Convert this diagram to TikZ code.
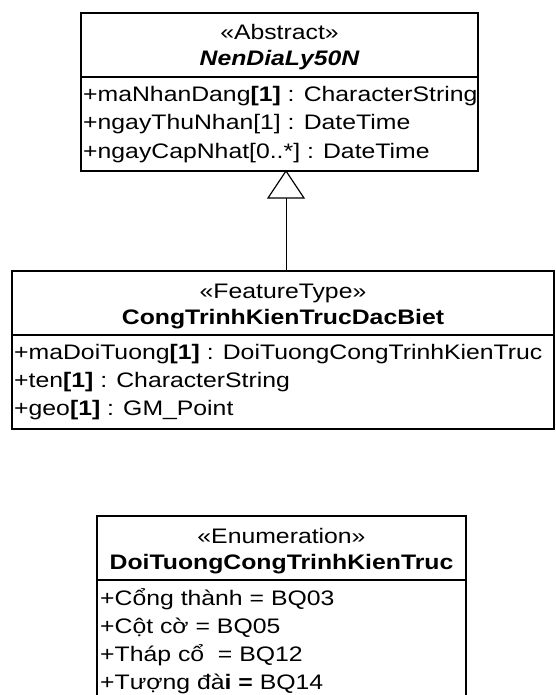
\documentclass[tikz,border=0pt]{standalone}
\usepackage{fontspec}
\setmainfont{Liberation Sans}[FakeStretch=1.18]
\usetikzlibrary{calc}
\begin{document}
\begin{tikzpicture}[x=1pt,y=-1pt,
  umlbox/.style={draw=black,line width=1.4pt,fill=white,anchor=north west,inner sep=0pt,outer sep=0pt},
  head/.style={anchor=base,inner sep=0pt,font=\fontsize{21}{25}\selectfont},
  attr/.style={anchor=base west,inner sep=0pt,font=\fontsize{21}{25}\selectfont},
  sep/.style={line width=1.2pt},
  link/.style={line width=1pt},
  gen/.style={draw=black,line width=1.2pt,fill=white,line join=miter}]
\fill[white] (0,0) rectangle (555,695);
\useasboundingbox (0,0) rectangle (555,695);
\clip (0,0) rectangle (555,695);

% abstract base class
\node[umlbox,minimum width=397pt,minimum height=158pt] (nen) at (81,13) {};
\coordinate (nendiv) at (0,77);
\draw[sep] (nen.west |- nendiv) -- (nen.east |- nendiv);
\node[head] (nenst) at (279.5,40) {«Abstract»};
\node[head] (nenname) at (279.5,66) {\bfseries\itshape NenDiaLy50N};
\node[attr] (nena) at (83,102) {+maNhanDang\textbf{[1]} : CharacterString};
\node[attr] (nenb) at (83,130) {+ngayThuNhan[1] : DateTime};
\node[attr] (nenc) at (83,158) {+ngayCapNhat[0..*] : DateTime};

% feature type
\node[umlbox,minimum width=542pt,minimum height=158pt] (ct) at (12,271) {};
\coordinate (ctdiv) at (0,335);
\draw[sep] (ct.west |- ctdiv) -- (ct.east |- ctdiv);
\node[head] (ctst) at (283,298) {«FeatureType»};
\node[head] (ctname) at (283,324) {\bfseries CongTrinhKienTrucDacBiet};
\node[attr] (cta) at (14,359) {+maDoiTuong\textbf{[1]} : DoiTuongCongTrinhKienTruc};
\node[attr] (ctb) at (14,387) {+ten\textbf{[1]} : CharacterString};
\node[attr] (ctc) at (14,415) {+geo\textbf{[1]} : GM\_Point};

% generalisation: feature type -> abstract base
\coordinate (apex) at (286,171);
\coordinate (tribase) at (286,198);
\draw[gen] (apex) -- ($(tribase)+(-18,0)$) -- ($(tribase)+(18,0)$) -- cycle;
\draw[link] (tribase) -- (tribase |- ct.north);

% enumeration
\node[umlbox,minimum width=369pt,minimum height=190pt] (en) at (97,516) {};
\coordinate (endiv) at (0,580);
\draw[sep] (en.west |- endiv) -- (en.east |- endiv);
\node[head] (enst) at (281.5,543) {«Enumeration»};
\node[head] (enname) at (281.5,569) {\bfseries DoiTuongCongTrinhKienTruc};
\node[attr] (ena) at (100,605) {+Cổng thành = BQ03};
\node[attr] (enb) at (100,633) {+Cột cờ = BQ05};
\node[attr] (enc) at (100,661) {+Tháp cổ\ \ = BQ12};
\node[attr] (end) at (100,689) {+Tượng đà\textbf{i =} BQ14};
\end{tikzpicture}
\end{document}
